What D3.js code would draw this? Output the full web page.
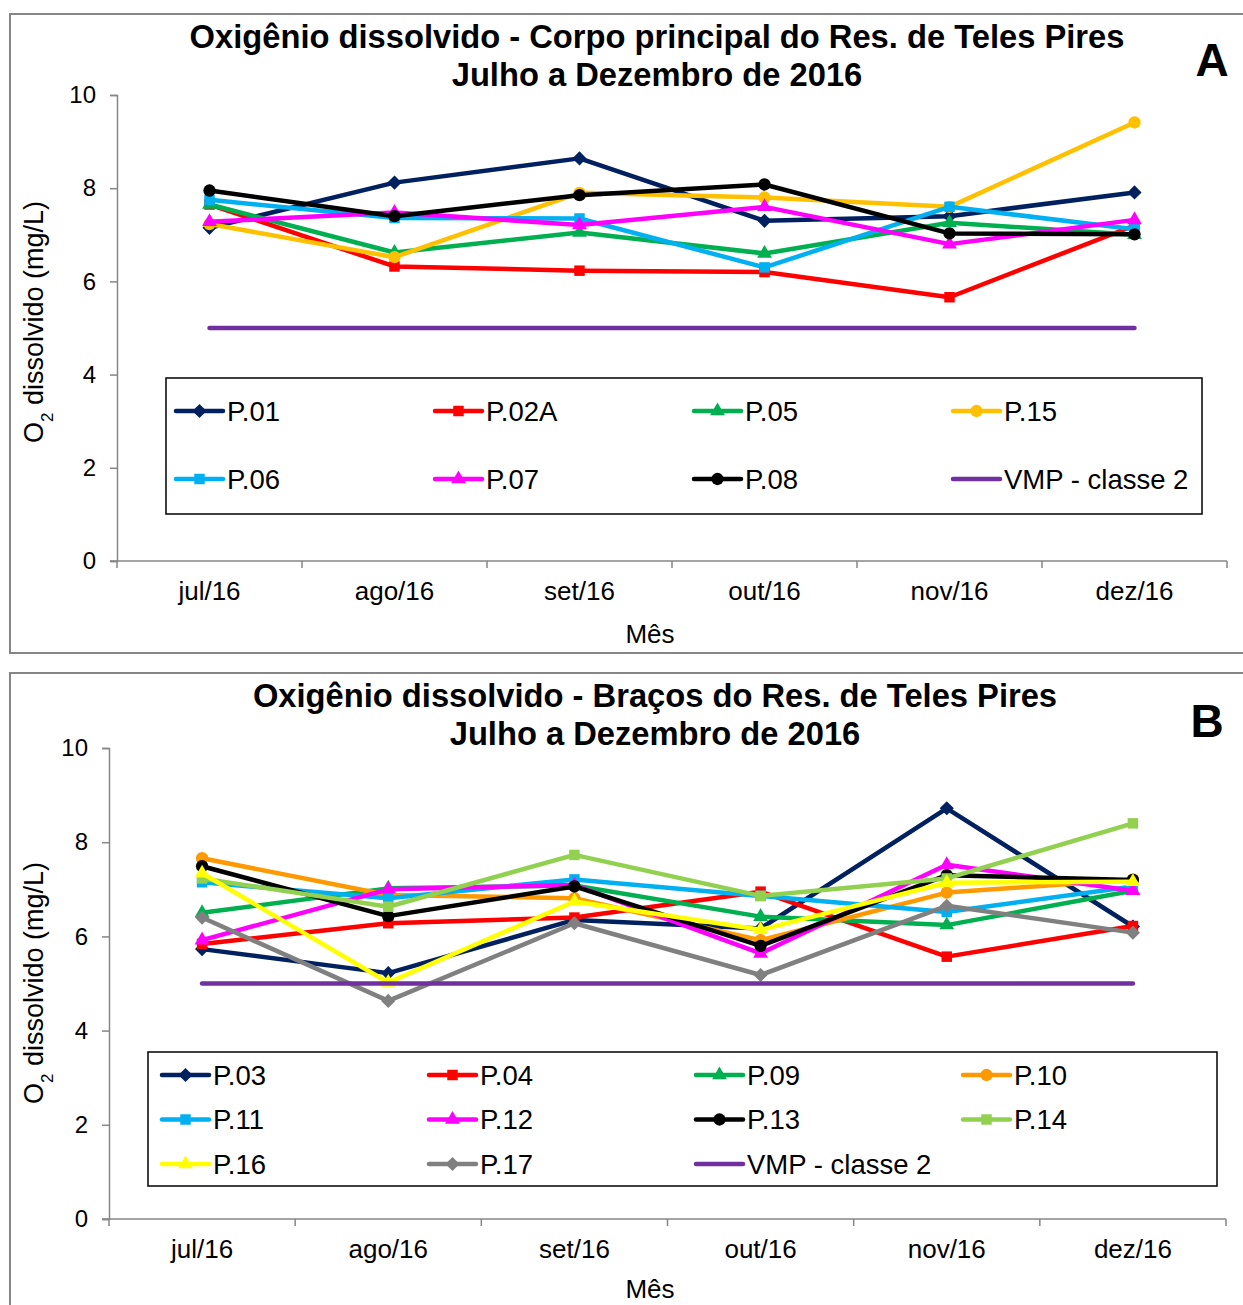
<!DOCTYPE html>
<html>
<head>
<meta charset="utf-8">
<script src="https://cdn.jsdelivr.net/npm/d3@7"></script>
<style>
  html, body { margin: 0; padding: 0; background: #fff; }
  svg { display: block; font-family: "Liberation Sans", Arial, sans-serif; }
</style>
</head>
<body>
<svg id="chart" width="1243" height="1305"></svg>
<script>
// Months on the x axis
const months = ["jul/16", "ago/16", "set/16", "out/16", "nov/16", "dez/16"];
const yTicks = [0, 2, 4, 6, 8, 10];

// Panel A – main body of the reservoir (mg/L)
const p01  = [7.15, 8.12, 8.64, 7.30, 7.40, 7.91];
const p02A = [7.65, 6.32, 6.23, 6.20, 5.66, 7.20];
const p05  = [7.65, 6.62, 7.05, 6.60, 7.26, 7.00];
const p15  = [7.23, 6.52, 7.90, 7.80, 7.60, 9.41];
const p06  = [7.75, 7.36, 7.35, 6.30, 7.60, 7.12];
const p07  = [7.28, 7.48, 7.21, 7.60, 6.80, 7.32];
const p08  = [7.95, 7.40, 7.85, 8.08, 7.03, 7.01];

// Panel B – arms of the reservoir (mg/L)
const p03 = [5.73, 5.22, 6.35, 6.17, 8.72, 6.21];
const p04 = [5.84, 6.28, 6.40, 6.95, 5.57, 6.22];
const p09 = [6.50, 7.02, 7.08, 6.42, 6.24, 6.97];
const p10 = [7.66, 6.88, 6.81, 5.92, 6.93, 7.21];
const p11 = [7.15, 6.81, 7.21, 6.86, 6.52, 7.06];
const p12 = [5.92, 7.00, 7.09, 5.64, 7.52, 6.97];
const p13 = [7.49, 6.43, 7.06, 5.80, 7.30, 7.20];
const p14 = [7.23, 6.63, 7.73, 6.86, 7.23, 8.40];
const p16 = [7.34, 5.02, 6.74, 6.14, 7.14, 7.16];
const p17 = [6.40, 4.63, 6.28, 5.18, 6.65, 6.08];

// Class 2 limit (CONAMA 357) – minimum dissolved oxygen
const vmp = [5, 5, 5, 5, 5, 5];

const seriesA = [
  { name: "P.01",  values: p01,  color: "#002060", shape: "diamond" },
  { name: "P.02A", values: p02A, color: "#FF0000", shape: "square" },
  { name: "P.05",  values: p05,  color: "#00B050", shape: "triangle" },
  { name: "P.15",  values: p15,  color: "#FFC000", shape: "circle" },
  { name: "P.06",  values: p06,  color: "#00B0F0", shape: "square" },
  { name: "P.07",  values: p07,  color: "#FF00FF", shape: "triangle" },
  { name: "P.08",  values: p08,  color: "#000000", shape: "circle" },
  { name: "VMP - classe 2", values: vmp, color: "#7030A0", shape: null }
];

const seriesB = [
  { name: "P.03", values: p03, color: "#002060", shape: "diamond" },
  { name: "P.04", values: p04, color: "#FF0000", shape: "square" },
  { name: "P.09", values: p09, color: "#00B050", shape: "triangle" },
  { name: "P.10", values: p10, color: "#FF9900", shape: "circle" },
  { name: "P.11", values: p11, color: "#00B0F0", shape: "square" },
  { name: "P.12", values: p12, color: "#FF00FF", shape: "triangle" },
  { name: "P.13", values: p13, color: "#000000", shape: "circle" },
  { name: "P.14", values: p14, color: "#92D050", shape: "square" },
  { name: "P.16", values: p16, color: "#FFFF00", shape: "triangle" },
  { name: "P.17", values: p17, color: "#808080", shape: "diamond" },
  { name: "VMP - classe 2", values: vmp, color: "#7030A0", shape: null }
];

const svg = d3.select("#chart");
const AXIS = "#868686";

function markerPath(shape) {
  switch (shape) {
    case "diamond":  return d3.symbol(d3.symbolSquare, 100)();
    case "square":   return d3.symbol(d3.symbolSquare, 110)();
    case "triangle": return d3.symbol(d3.symbolTriangle, 95)();
    case "circle":   return d3.symbol(d3.symbolCircle, 120)();
  }
  return null;
}
function markerTransform(shape, x, y) {
  return shape === "diamond"
    ? `translate(${x},${y}) rotate(45)`
    : `translate(${x},${y})`;
}

function drawPanel(cfg) {
  const g = svg.append("g");

  // outer frame
  g.append("rect")
    .attr("x", cfg.frame.x).attr("y", cfg.frame.y)
    .attr("width", cfg.frame.w).attr("height", cfg.frame.h)
    .attr("fill", "none").attr("stroke", AXIS).attr("stroke-width", 2);

  const x = d3.scaleBand().domain(months).range([cfg.left, cfg.right]).paddingInner(0).paddingOuter(0);
  const y = d3.scaleLinear().domain([0, 10]).range([cfg.bottom, cfg.top]);
  const cx = m => x(m) + x.bandwidth() / 2;

  // y axis
  const yAxis = g.append("g")
    .attr("transform", `translate(${cfg.left},0)`)
    .call(d3.axisLeft(y).tickValues(yTicks).tickSize(7).tickPadding(14).tickFormat(d3.format("d")));
  yAxis.select(".domain").attr("stroke", AXIS).attr("stroke-width", 1.5);
  yAxis.selectAll(".tick line").attr("stroke", AXIS).attr("stroke-width", 1.5);
  yAxis.selectAll(".tick text")
    .attr("fill", "#000").style("font-size", "24px").style("font-family", "Liberation Sans, Arial, sans-serif");

  // x axis: labels centred on categories, ticks on category boundaries
  const xAxis = g.append("g")
    .attr("transform", `translate(0,${cfg.bottom})`)
    .call(d3.axisBottom(x).tickSize(0).tickPadding(0));
  xAxis.select(".domain").attr("stroke", AXIS).attr("stroke-width", 1.5)
    .attr("d", `M${cfg.left - 7},0H${cfg.right}`);
  xAxis.selectAll(".tick text")
    .attr("y", 39).attr("dy", 0)
    .attr("fill", "#000").style("font-size", "26px").style("font-family", "Liberation Sans, Arial, sans-serif");
  const bounds = months.map(m => x(m)).concat([x(months[months.length - 1]) + x.bandwidth()]);
  xAxis.selectAll("line.bound").data(bounds).join("line")
    .attr("class", "bound")
    .attr("x1", d => d).attr("x2", d => d)
    .attr("y1", 0).attr("y2", 7)
    .attr("stroke", AXIS).attr("stroke-width", 1.5);

  // axis titles
  g.append("text")
    .attr("x", 650).attr("y", cfg.bottom + cfg.mesDy)
    .attr("text-anchor", "middle").style("font-size", "26px").text("Mês");

  const yl = g.append("text")
    .attr("transform", `translate(${cfg.ylabelX},${cfg.ylabelY}) rotate(-90)`)
    .attr("text-anchor", "middle").style("font-size", "27px");
  yl.append("tspan").text("O");
  yl.append("tspan").attr("baseline-shift", "sub").style("font-size", "17px").text("2");
  yl.append("tspan").text(" dissolvido (mg/L)");

  // titles
  cfg.title.forEach((t, i) => {
    g.append("text")
      .attr("x", cfg.titleX).attr("y", cfg.titleY + i * 38)
      .attr("text-anchor", "middle")
      .style("font-size", "32.7px").style("font-weight", "bold")
      .text(t);
  });
  g.append("text")
    .attr("x", cfg.letter.x).attr("y", cfg.letter.y)
    .attr("text-anchor", "middle")
    .style("font-size", "46px").style("font-weight", "bold")
    .text(cfg.letter.t);

  // series
  const line = d3.line().x((d, i) => cx(months[i])).y(d => y(d));
  const marks = g.append("g");
  cfg.series.forEach(s => {
    const sg = marks.append("g");
    sg.append("path")
      .attr("d", line(s.values))
      .attr("fill", "none").attr("stroke", s.color)
      .attr("stroke-width", 4.5)
      .attr("stroke-linejoin", "round")
      .attr("stroke-linecap", "round");
    if (s.shape) {
      sg.selectAll("path.m").data(s.values).join("path")
        .attr("class", "m")
        .attr("d", markerPath(s.shape))
        .attr("transform", (d, i) => markerTransform(s.shape, cx(months[i]), y(d)))
        .attr("fill", s.color);
    }
  });

  // legend
  const L = cfg.legend;
  g.append("rect")
    .attr("x", L.x).attr("y", L.y).attr("width", L.w).attr("height", L.h)
    .attr("fill", "#fff").attr("stroke", "#000").attr("stroke-width", 1.5);
  cfg.series.forEach((s, i) => {
    const col = i % 4, row = Math.floor(i / 4);
    const lx = L.x0 + col * L.colStep;
    const ly = L.y0 + row * L.rowStep;
    const lg = g.append("g");
    lg.append("line")
      .attr("x1", lx).attr("x2", lx + 47).attr("y1", ly).attr("y2", ly)
      .attr("stroke", s.color).attr("stroke-width", 4.5).attr("stroke-linecap", "round");
    if (s.shape) {
      lg.append("path")
        .attr("d", markerPath(s.shape))
        .attr("transform", markerTransform(s.shape, lx + 23.5, ly))
        .attr("fill", s.color);
    }
    lg.append("text")
      .attr("x", lx + 51).attr("y", ly + 9.5)
      .style("font-size", "27.5px")
      .text(s.name);
  });
}

drawPanel({
  frame: { x: 10, y: 14, w: 1250, h: 639 },
  left: 117, right: 1227, top: 95, bottom: 561,
  ylabelX: 43, ylabelY: 322, mesDy: 82,
  title: ["Oxigênio dissolvido - Corpo principal do Res. de Teles Pires", "Julho a Dezembro de 2016"],
  titleX: 657, titleY: 48,
  letter: { t: "A", x: 1212, y: 76 },
  series: seriesA,
  legend: { x: 166, y: 378, w: 1036, h: 136, x0: 176, y0: 411, colStep: 259, rowStep: 68 }
});

drawPanel({
  frame: { x: 10, y: 673, w: 1250, h: 660 },
  left: 109, right: 1226, top: 748, bottom: 1219,
  ylabelX: 43, ylabelY: 983, mesDy: 79,
  title: ["Oxigênio dissolvido - Braços do Res. de Teles Pires", "Julho a Dezembro de 2016"],
  titleX: 655, titleY: 707,
  letter: { t: "B", x: 1207, y: 737 },
  series: seriesB,
  legend: { x: 148, y: 1052, w: 1069, h: 134, x0: 162, y0: 1075, colStep: 267, rowStep: 44.5 }
});
</script>
</body>
</html>
